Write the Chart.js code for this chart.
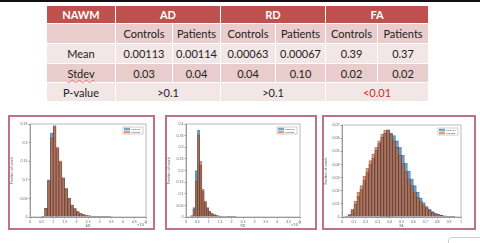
<!DOCTYPE html>
<html>
<head>
<meta charset="utf-8">
<script src="https://cdn.jsdelivr.net/npm/chart.js@4.4.1/dist/chart.umd.min.js"></script>
<style>
  html, body { margin: 0; padding: 0; background: #fff; }
  body { width: 480px; height: 243px; position: relative; overflow: hidden; font-family: Lato, "Noto Sans", sans-serif; }
  #topline { position: absolute; left: 0; top: 0; width: 480px; height: 1.5px; background: #111; }
  #stats { position: absolute; left: 46px; top: 5px; border-collapse: collapse; table-layout: fixed; font-size: 11px; color: #222; }
  #stats td, #stats th { border: 1px solid #fff; padding: 0; text-align: center; white-space: nowrap; }
  #stats th { background: #C0504D; color: #fff; font-weight: bold; height: 17px; }
  #stats tr.dark td { background: #E9CDCC; }
  #stats tr.light td { background: #F3E6E6; }
  #stats .sig { color: #D02A2A; }
  .spell { text-decoration: underline wavy rgba(224, 72, 72, 0.6); text-decoration-thickness: 0.5px; text-underline-offset: 1px; }
  .panel { position: absolute; top: 115px; height: 111px; border: 2px solid #BE7189; background: #fff; }
  .panel canvas { position: absolute; left: 0; top: 0; }
  #corner { position: absolute; left: 448px; top: 237px; width: 40px; height: 14px; border: 1px solid #cfcfcf; border-radius: 4px; }
</style>
</head>
<body>
<div id="topline"></div>
<table id="stats"></table>
<div class="panel" style="left:8px;width:143px;"><canvas id="histAD" width="143" height="111"></canvas></div>
<div class="panel" style="left:165px;width:148px;"><canvas id="histRD" width="148" height="111"></canvas></div>
<div class="panel" style="left:322px;width:150px;"><canvas id="histFA" width="150" height="111"></canvas></div>
<div id="corner"></div>
<script>
// table
const measures = ['AD', 'RD', 'FA'];
const meanControls = ['0.00113', '0.00063', '0.39'];
const meanPatients = ['0.00114', '0.00067', '0.37'];
const sdControls = ['0.03', '0.04', '0.02'];
const sdPatients = ['0.04', '0.10', '0.02'];
const pValues = ['>0.1', '>0.1', '<0.01'];

// histograms (bin centres; AD and RD in units of 10^-3)
const adBins = [0.5625, 0.6875, 0.8125, 0.9375, 1.0625, 1.1875, 1.3125, 1.4375, 1.5625, 1.6875, 1.8125, 1.9375,
  2.0625, 2.1875, 2.3125, 2.4375, 2.5625, 2.6875, 2.8125, 2.9375, 3.0625, 3.1875, 3.3125, 3.4375];
const adControls = [0.002, 0.023, 0.100, 0.226, 0.243, 0.184, 0.148, 0.104, 0.076, 0.050, 0.032, 0.022,
  0.014, 0.009, 0.006, 0.004, 0.003, 0.002, 0.0015, 0.001, 0.0007, 0.0005, 0.0003, 0.0002];
const adPatients = [0.002, 0.023, 0.097, 0.213, 0.246, 0.187, 0.151, 0.106, 0.077, 0.051, 0.033, 0.023,
  0.015, 0.010, 0.007, 0.005, 0.0035, 0.0025, 0.002, 0.0012, 0.0009, 0.0006, 0.0004, 0.0002];

const rdBins = [0.25, 0.35, 0.45, 0.55, 0.65, 0.75, 0.85, 0.95, 1.05, 1.15, 1.25, 1.35, 1.45, 1.55, 1.65,
  1.75, 1.85, 1.95, 2.05, 2.15];
const rdControls = [0.005, 0.041, 0.200, 0.374, 0.224, 0.112, 0.064, 0.038, 0.023, 0.014, 0.009, 0.006,
  0.004, 0.003, 0.002, 0.0015, 0.001, 0.0007, 0.0005, 0.0003];
const rdPatients = [0.006, 0.034, 0.153, 0.353, 0.239, 0.120, 0.069, 0.041, 0.025, 0.016, 0.010, 0.007,
  0.005, 0.0035, 0.0025, 0.002, 0.0013, 0.0009, 0.0006, 0.0004];

const faBins = [0.0375, 0.0625, 0.0875, 0.1125, 0.1375, 0.1625, 0.1875, 0.2125, 0.2375, 0.2625, 0.2875,
  0.3125, 0.3375, 0.3625, 0.3875, 0.4125, 0.4375, 0.4625, 0.4875, 0.5125, 0.5375, 0.5625, 0.5875, 0.6125,
  0.6375, 0.6625, 0.6875, 0.7125, 0.7375, 0.7625, 0.7875, 0.8125, 0.8375, 0.8625, 0.8875, 0.9125, 0.9375];
const faControls = [0.0003, 0.0015, 0.005, 0.010, 0.016, 0.021, 0.028, 0.034, 0.040, 0.045, 0.051,
  0.056, 0.061, 0.064, 0.066, 0.064, 0.062, 0.058, 0.053, 0.047, 0.041, 0.035, 0.029, 0.024,
  0.019, 0.0145, 0.011, 0.008, 0.006, 0.0042, 0.003, 0.002, 0.0013, 0.0008, 0.0005, 0.0003, 0.0001];
const faPatients = [0.0004, 0.002, 0.006, 0.012, 0.019, 0.024, 0.031, 0.037, 0.043, 0.048, 0.053,
  0.058, 0.063, 0.066, 0.0665, 0.063, 0.058, 0.053, 0.047, 0.041, 0.035, 0.029, 0.024, 0.019,
  0.015, 0.012, 0.009, 0.007, 0.005, 0.0035, 0.0025, 0.0018, 0.0012, 0.0008, 0.0005, 0.0003, 0.0001];

// build table
const colWidths = [69, 57, 48, 55, 50, 52, 51];
let html = '<colgroup>' + colWidths.map(w => '<col style="width:' + w + 'px">').join('') + '</colgroup>';
html += '<tr><th>NAWM</th>' + measures.map(m => '<th colspan="2">' + m + '</th>').join('') + '</tr>';
html += '<tr class="dark" style="height:20px"><td></td>' + measures.map(() => '<td>Controls</td><td>Patients</td>').join('') + '</tr>';
html += '<tr class="light" style="height:20px"><td>Mean</td>' + measures.map((m, i) => '<td>' + meanControls[i] + '</td><td>' + meanPatients[i] + '</td>').join('') + '</tr>';
html += '<tr class="dark" style="height:19px"><td><span class="spell">Stdev</span></td>' + measures.map((m, i) => '<td>' + sdControls[i] + '</td><td>' + sdPatients[i] + '</td>').join('') + '</tr>';
html += '<tr class="light" style="height:19px"><td>P-value</td>' + measures.map((m, i) =>
  '<td colspan="2"' + (pValues[i].startsWith('<') ? ' class="sig"' : '') + '>' + pValues[i].replace('<', '&lt;').replace('>', '&gt;') + '</td>').join('') + '</tr>';
document.getElementById('stats').innerHTML = html;

const blue = 'rgba(0, 114, 189, 0.6)';
const orange = 'rgba(217, 83, 25, 0.6)';
const fmt = v => String(+v.toFixed(4));

// axes box, legend box and exponent label, drawn like the matlab figure
const matlabBits = {
  id: 'matlabBits',
  afterDraw(chart, args, opts) {
    const { ctx, chartArea: a } = chart;
    ctx.save();
    ctx.strokeStyle = '#9a9a9a';
    ctx.lineWidth = 0.7;
    ctx.strokeRect(a.left, a.top, a.right - a.left, a.bottom - a.top);

    const w = 20, h = 7, x = a.right - w - 3, y = a.top + 3;
    ctx.fillStyle = '#fff';
    ctx.fillRect(x, y, w, h);
    ctx.strokeStyle = '#a0a0a0';
    ctx.lineWidth = 0.5;
    ctx.strokeRect(x, y, w, h);
    ctx.font = '2.6px Lato';
    ctx.textBaseline = 'middle';
    chart.data.datasets.forEach((ds, i) => {
      const ly = y + 0.8 + i * 3;
      ctx.fillStyle = ds.backgroundColor;
      ctx.fillRect(x + 1, ly, 6, 2.4);
      ctx.fillStyle = '#555';
      ctx.fillText(ds.label, x + 8, ly + 1.2);
    });

    if (opts.exponent) {
      ctx.fillStyle = '#666';
      ctx.font = '4px Lato';
      ctx.textAlign = 'right';
      ctx.fillText('\u00d710', a.right - 2, a.bottom + 8);
      ctx.font = '3px Lato';
      ctx.textAlign = 'left';
      ctx.fillText('-3', a.right - 2, a.bottom + 6.5);
    }
    ctx.restore();
  }
};

function histogram(id, bins, controls, patients, o) {
  new Chart(document.getElementById(id), {
    type: 'bar',
    data: {
      datasets: [
        { label: 'Controls', data: bins.map((b, i) => ({ x: b, y: controls[i] })), backgroundColor: blue, order: 1 },
        { label: 'Patients', data: bins.map((b, i) => ({ x: b, y: patients[i] })), backgroundColor: orange, order: 0 }
      ]
    },
    plugins: [matlabBits],
    options: {
      responsive: false,
      animation: false,
      events: [],
      datasets: {
        bar: { grouped: false, barPercentage: 1, categoryPercentage: 1, borderWidth: 0.4, borderColor: 'rgba(0,0,0,0.35)' }
      },
      layout: { padding: { left: 0, top: o.padTop, right: o.padRight, bottom: 0 } },
      scales: {
        x: {
          type: 'linear', min: 0, max: o.xMax, offset: false,
          grid: { offset: false, drawOnChartArea: false, tickLength: 1.5, color: '#999' },
          border: { color: '#9a9a9a' },
          ticks: { stepSize: o.xStep, font: { size: 3.5, family: 'Lato' }, color: '#666', padding: 1, maxRotation: 0, autoSkip: false, callback: fmt },
          title: { display: true, text: o.xTitle, font: { size: 3.5, family: 'Lato' }, color: '#666', padding: 0 },
          afterFit: s => { s.height = 11; }
        },
        y: {
          min: 0, max: o.yMax,
          grid: { drawOnChartArea: false, tickLength: 1.5, color: '#999' },
          border: { color: '#9a9a9a' },
          ticks: { stepSize: o.yStep, font: { size: 3.5, family: 'Lato' }, color: '#666', padding: 1, callback: fmt },
          title: { display: true, text: 'Fraction of voxels', font: { size: 3.5, family: 'Lato' }, color: '#666', padding: 0 },
          afterFit: s => { s.width = o.yWidth; }
        }
      },
      plugins: {
        legend: { display: false },
        tooltip: { enabled: false },
        matlabBits: { exponent: o.exponent }
      }
    }
  });
}

histogram('histAD', adBins, adControls, adPatients,
  { xMax: 5, xStep: 0.5, yMax: 0.25, yStep: 0.05, xTitle: 'AD', exponent: true, yWidth: 20, padTop: 7, padRight: 7 });
histogram('histRD', rdBins, rdControls, rdPatients,
  { xMax: 5, xStep: 0.5, yMax: 0.4, yStep: 0.05, xTitle: 'RD', exponent: true, yWidth: 19, padTop: 7, padRight: 15 });
histogram('histFA', faBins, faControls, faPatients,
  { xMax: 1, xStep: 0.1, yMax: 0.07, yStep: 0.01, xTitle: 'FA', exponent: false, yWidth: 18, padTop: 8, padRight: 13 });
</script>
</body>
</html>
